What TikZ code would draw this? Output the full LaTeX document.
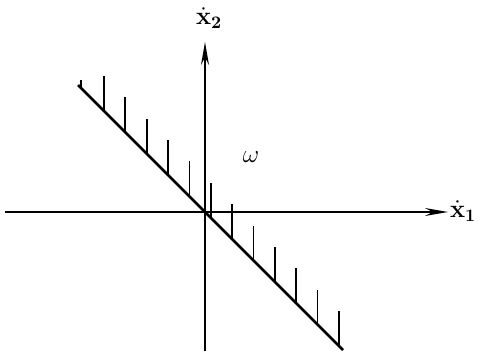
\documentclass[tikz,border=0pt]{standalone}
\usepackage{amsmath}
\usetikzlibrary{arrows.meta}

\begin{document}
\begin{tikzpicture}[x=0.02cm, y=-0.02cm,
  axis/.style={line width=1.1pt, -{Stealth[length=13pt, width=4.5pt]}},
  border/.style={line width=1.6pt},
  hatch/.style={line width=1pt},
  lab/.style={font=\Large}]
  \useasboundingbox (0,0) rectangle (479,351);
  \coordinate (o) at (205,212);
  \coordinate (xs) at (5,212);
  \coordinate (xe) at (448,212);
  \coordinate (ys) at (205,351);
  \coordinate (ye) at (205,42);
  \coordinate (ls) at (78,85);
  \coordinate (le) at (343,350);
  \draw[axis] (xs) -- (xe);
  \draw[axis] (ys) -- (ye);
  \draw[border] (ls) -- (le);
  % hatching above the line
  \draw[hatch] (81,88) -- (81,80);
  \foreach \k in {0,...,11}{
    \pgfmathsetmacro{\hx}{104+21.36*\k}
    \draw[hatch] (\hx,\hx+7) -- (\hx,\hx-28);
  }
  \node[lab] (x1) at (463,211) {$\dot{\mathbf{x}}_{\mathbf{1}}$};
  \node[lab] (x2) at (209,18) {$\dot{\mathbf{x}}_{\mathbf{2}}$};
  \node[lab] (om) at (251,157) {$\omega$};
\end{tikzpicture}
\end{document}
